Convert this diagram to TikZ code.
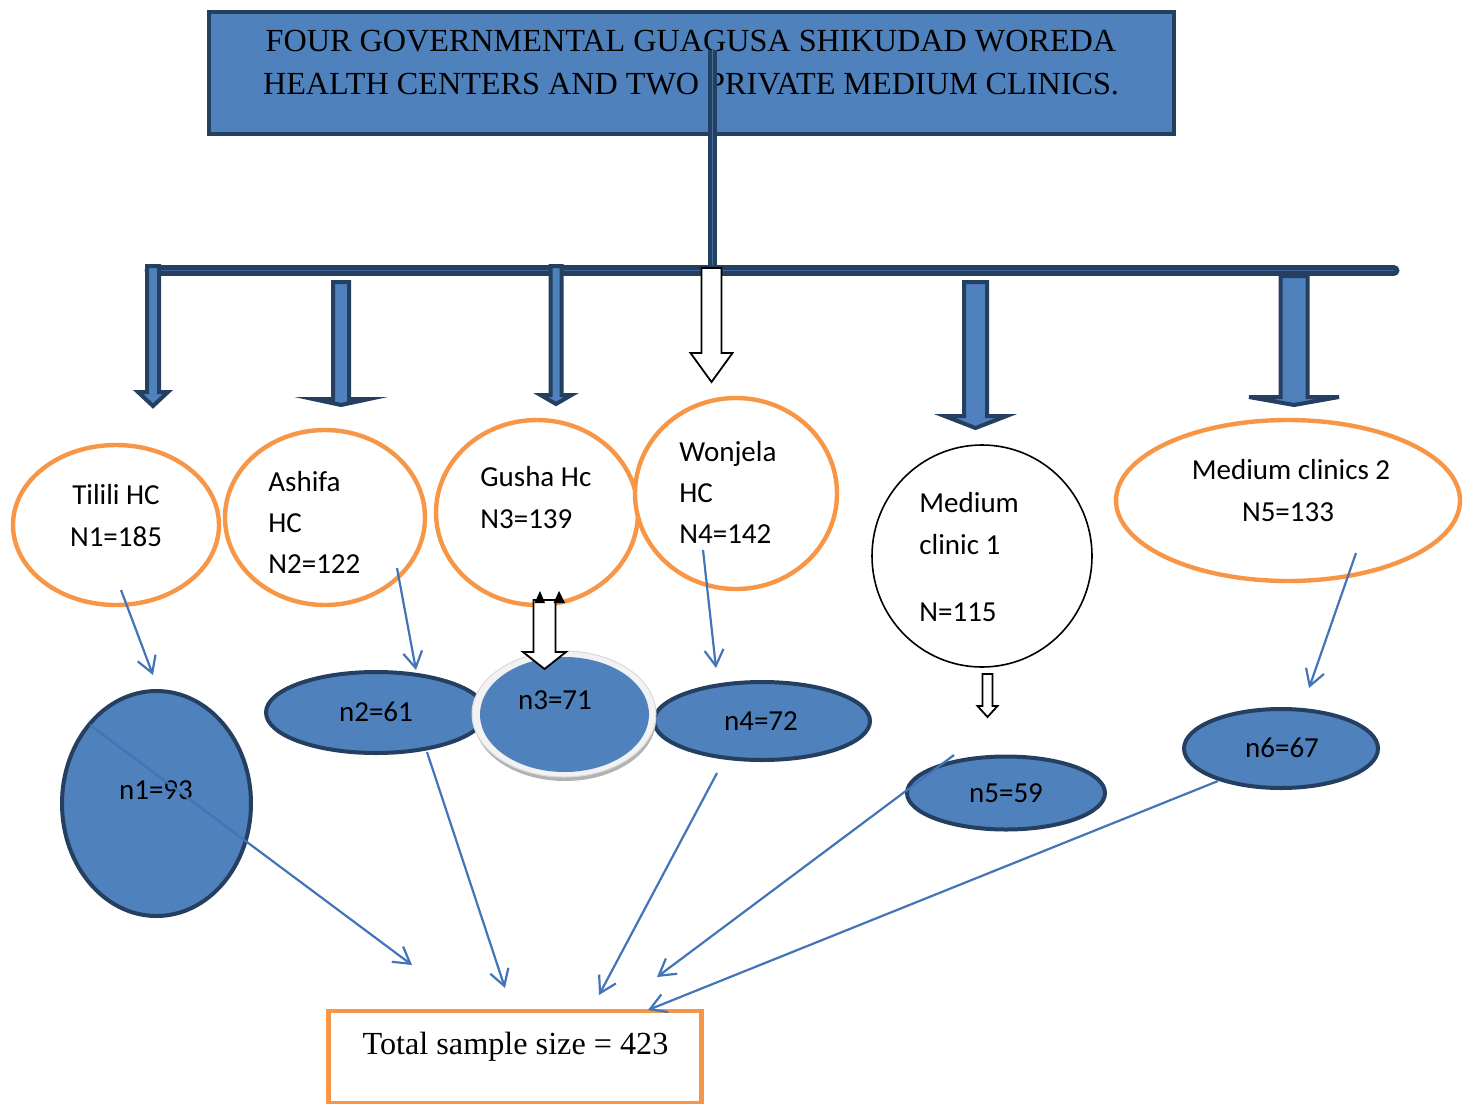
\documentclass[tikz,border=0pt]{standalone}
\usepackage{fontspec}
\setmainfont{Liberation Serif}
\newfontfamily\calib{Carlito}
\usetikzlibrary{arrows.meta,shapes.geometric}
\definecolor{blueF}{HTML}{4F81BD}
\definecolor{blueL}{HTML}{4374B7}
\definecolor{navy}{HTML}{243F60}
\definecolor{orng}{HTML}{F79646}
\newcommand\blkarrow[7]{\draw[#1] (#2-#6,#3) -- (#2+#6,#3) -- (#2+#6,#4) -- (#2+#7,#4) -- (#2,#5) -- (#2-#7,#4) -- (#2-#6,#4) -- cycle;}
\begin{document}
\begin{tikzpicture}[x=0.5pt,y=-0.5pt,
  orell/.style={ellipse, draw=orng, line width=2.2pt, fill=white, inner sep=0pt},
  blell/.style={ellipse, draw=navy, line width=2pt, fill=blueF, inner sep=0pt},
  ctxt/.style={font=\calib\fontsize{14.5}{17}\selectfont, inner sep=0pt},
  ttxt/.style={font=\fontsize{16.1}{19}\selectfont, inner sep=0pt},
  thinarr/.style={draw=blueL, line width=1.1pt, -{Straight Barb[length=8pt,width=9.5pt]}},
  blockblue/.style={fill=blueF, draw=navy, line width=2pt, line join=miter},
  blockwhite/.style={fill=white, draw=black, line width=0.9pt, line join=miter}]
\useasboundingbox (0,0) rectangle (1470,1103);
% title
\node[draw=navy, line width=2pt, fill=blueF, minimum width=482.5pt, minimum height=61pt, inner sep=0pt] (title) at (691.5,73) {};
\node[ttxt, anchor=base] (tl1) at (691,51.5) {FOUR GOVERNMENTAL GUAGUSA SHIKUDAD WOREDA};
\node[ttxt, anchor=base] (tl2) at (691,94) {HEALTH CENTERS AND TWO PRIVATE MEDIUM CLINICS.};
% trunk and bar
\coordinate (trunkTop) at (712.5,50);
\coordinate (trunkBot) at (712.5,268);
\coordinate (barL) at (150,270.5);
\coordinate (barR) at (1394,270.5);
\draw[navy, line width=4.5pt] (trunkTop) -- (trunkBot);
\draw[blueF!70!navy, line width=0.5pt] (trunkTop) -- (trunkBot);
\draw[navy, line width=5.5pt, line cap=round] (barL) -- (barR);
\draw[blueF!60!navy, line width=0.6pt] (barL) -- (barR);
% block arrows
\blkarrow{blockblue}{153}{266}{392}{406}{6}{15}
\blkarrow{blockblue}{341}{282}{399}{405}{8}{28}
\blkarrow{blockblue}{556}{266}{395}{404}{5.5}{15.5}
\blkarrow{blockwhite}{711.5}{268}{353}{382}{10}{21}
\blkarrow{blockblue}{975.5}{282}{416}{428}{11.5}{31}
\blkarrow{blockblue}{1294}{276}{397}{405}{13.5}{45}
% orange ellipses
\node[orell, minimum width=103pt, minimum height=80pt] (tilili) at (116,525) {};
\node[orell, minimum width=100pt, minimum height=87.5pt] (ashifa) at (325,517.5) {};
\node[orell, minimum width=101pt, minimum height=92.5pt] (gusha) at (537,512.5) {};
\node[orell, minimum width=101pt, minimum height=95.5pt] (wonjela) at (736,493.5) {};
\node[ellipse, draw=black, line width=0.8pt, fill=white, inner sep=0pt, minimum width=110pt, minimum height=111pt] (med1) at (982,556) {};
\node[orell, minimum width=172pt, minimum height=80.5pt] (med2) at (1288,500.5) {};
% ellipse texts
\node[ctxt, anchor=base] (t1a) at (116,504) {Tilili HC};
\node[ctxt, anchor=base] (t1b) at (116,546) {N1=185};
\node[ctxt, anchor=base west] (t2a) at (268,491) {Ashifa};
\node[ctxt, anchor=base west] (t2b) at (268,532) {HC};
\node[ctxt, anchor=base west] (t2c) at (268,573) {N2=122};
\node[ctxt, anchor=base west] (t3a) at (480,486) {Gusha Hc};
\node[ctxt, anchor=base west] (t3b) at (480,528) {N3=139};
\node[ctxt, anchor=base west] (t4a) at (679,461) {Wonjela};
\node[ctxt, anchor=base west] (t4b) at (679,502) {HC};
\node[ctxt, anchor=base west] (t4c) at (679,543) {N4=142};
\node[ctxt, anchor=base west] (t5a) at (919,512) {Medium};
\node[ctxt, anchor=base west] (t5b) at (919,554) {clinic 1};
\node[ctxt, anchor=base west] (t5c) at (919,621) {N=115};
\node[ctxt, anchor=base] (t6a) at (1291,479) {Medium clinics 2};
\node[ctxt, anchor=base] (t6b) at (1288,521) {N5=133};
% blue ellipses
\node[blell, minimum width=94.5pt, minimum height=112.5pt] (n1) at (156.5,803.5) {};
\node[blell, minimum width=110pt, minimum height=40.5pt] (n2) at (376,712.5) {};
\node[blell, minimum width=108pt, minimum height=39pt] (n4) at (762,721) {};
\node[blell, minimum width=99pt, minimum height=36.5pt] (n5) at (1006,793) {};
\node[blell, minimum width=97pt, minimum height=39.5pt] (n6) at (1281,748.5) {};
\node[ellipse, fill=black!30, inner sep=0pt, minimum width=91pt, minimum height=62pt] (n3sh) at (565,719) {};
\node[ellipse, fill=black!5, draw=black!15, line width=0.5pt, inner sep=0pt, minimum width=92pt, minimum height=63pt] (n3w) at (564,714) {};
\node[ellipse, fill=blueF, inner sep=0pt, minimum width=84.5pt, minimum height=57.5pt] (n3) at (564.5,714.5) {};
% n3 white arrow and black tips
\blkarrow{blockwhite}{544.5}{600}{652}{669}{11}{21.5}
\fill[black] (534.5,603) -- (540,591) -- (545,603) -- cycle;
\fill[black] (553.5,603) -- (559,591) -- (565,603) -- cycle;
% labels
\node[ctxt, anchor=base] (l1) at (156,799) {n1=93};
\node[ctxt, anchor=base] (l2) at (376,721) {n2=61};
\node[ctxt, anchor=base] (l3) at (555,709) {n3=71};
\node[ctxt, anchor=base] (l4) at (761,730) {n4=72};
\node[ctxt, anchor=base] (l5) at (1006,802) {n5=59};
\node[ctxt, anchor=base] (l6) at (1282,757) {n6=67};
% medium clinic 1 small arrow
\blkarrow{blockwhite}{987.5}{674}{706}{717}{5}{10}
% total box
\node[draw=orng, line width=2.2pt, minimum width=186.5pt, minimum height=46pt, inner sep=0pt] (total) at (515,1057) {};
\node[ttxt, anchor=base] (totalT) at (515.5,1054) {Total sample size = 423};
% thin arrows
\coordinate (a1s) at (121,590); \coordinate (a1e) at (153,675);
\coordinate (a2s) at (397,568); \coordinate (a2e) at (416,670);
\coordinate (a3s) at (703,550); \coordinate (a3e) at (716,668);
\coordinate (a4s) at (1356,553); \coordinate (a4e) at (1309,688);
\coordinate (b1s) at (90,725); \coordinate (b1e) at (412,965);
\coordinate (b2s) at (427,752); \coordinate (b2e) at (505,988);
\coordinate (b3s) at (717,773); \coordinate (b3e) at (599,995);
\coordinate (b4s) at (954,755); \coordinate (b4e) at (657,977);
\coordinate (b5s) at (1218,781); \coordinate (b5e) at (648,1010);
\foreach \s/\e in {a1s/a1e,a2s/a2e,a3s/a3e,a4s/a4e,b1s/b1e,b2s/b2e,b3s/b3e,b4s/b4e,b5s/b5e}
  \draw[thinarr] (\s) -- (\e);
\end{tikzpicture}
\end{document}
